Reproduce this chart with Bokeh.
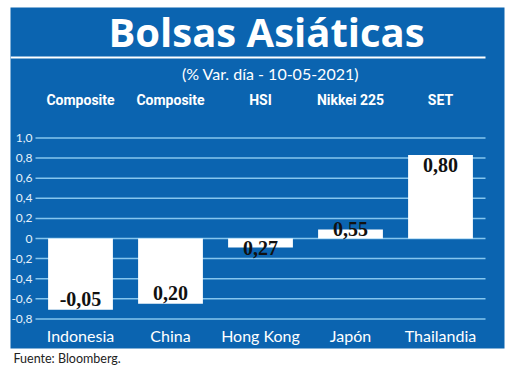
from bokeh.plotting import figure
from bokeh.models import Range1d, Title
from bokeh.core.properties import value
from bokeh.embed import file_html
from bokeh.resources import INLINE

# ---- data ----
countries = ["Indonesia", "China", "Hong Kong", "Japón", "Thailandia"]
indices = ["Composite", "Composite", "HSI", "Nikkei 225", "SET"]
bar_values = [-0.71, -0.65, -0.09, 0.09, 0.83]          # bar heights as drawn
value_labels = ["-0,05", "0,20", "0,27", "0,55", "0,80"]  # printed values
y_ticks = [1.0, 0.8, 0.6, 0.4, 0.2, 0.0, -0.2, -0.4, -0.6, -0.8]
y_tick_labels = ["1,0", "0,8", "0,6", "0,4", "0,2", "0", "-0,2", "-0,4", "-0,6", "-0,8"]
title_text = "Bolsas Asiáticas"
subtitle_text = "(% Var. día - 10-05-2021)"
source_text = "Fuente: Bloomberg."

# ---- layout (pixel scale helpers) ----
BLUE = "#0b64b0"
GRID = "#86c6ee"
X0, XS = 35.0, 90.0      # pixel of x=0, pixels per category
Y0, YS = 238.0, 100.5    # pixel of y=0, pixels per unit
L, R, T, B = 10, 504, 7, 348
W, H = 520, 376


def X(px):
    return (px - X0) / XS


def Y(py):
    return (Y0 - py) / YS


p = figure(width=W, height=H, output_backend="svg", toolbar_location=None,
           x_range=Range1d(X(L), X(R)), y_range=Range1d(Y(B), Y(T)),
           x_axis_type=None, y_axis_type=None,
           min_border_left=L, min_border_right=W - R,
           min_border_top=T, min_border_bottom=H - B,
           background_fill_color=BLUE, border_fill_color="white",
           outline_line_color=None)
p.grid.visible = False

centers = [i + 0.5 for i in range(len(countries))]

# grid lines
p.segment(x0=[0] * len(y_ticks), x1=[len(countries)] * len(y_ticks),
          y0=y_ticks, y1=y_ticks, line_color=GRID, line_width=1.5)

# bars
p.vbar(x=centers, top=bar_values, bottom=0, width=0.72,
       fill_color="white", line_color=None)

# tick labels
p.text(x=[X(32)] * len(y_ticks), y=y_ticks, text=y_tick_labels,
       text_align="right", text_baseline="middle",
       text_font=value("Lato"), text_font_size="12px", text_color="#e6f2fb")


def label_y(v):
    if v <= -0.3:
        return v + 11 / YS
    if v >= 0.3:
        return v - 10 / YS
    return v


p.text(x=centers, y=[label_y(v) for v in bar_values], text=value_labels,
       text_align="center", text_baseline="middle",
       text_font=value("Liberation Serif"), text_font_style="bold",
       text_font_size="20px", text_color="#111111")

# category labels
p.text(x=centers, y=[Y(335)] * len(countries), text=countries,
       text_align="center", text_baseline="middle",
       text_font=value("Lato"), text_font_size="16px", text_color="white")

# index names
p.text(x=centers, y=[Y(99)] * len(indices), text=indices,
       text_align="center", text_baseline="middle",
       text_font=value("Roboto"), text_font_style="bold",
       text_font_size="14px", text_color="white")

# title, rule, subtitle
p.text(x=[X(266)], y=[Y(31)], text=[title_text], text_align="center",
       text_baseline="middle", text_font=value("Open Sans"),
       text_font_style="bold", text_font_size="40px", text_color="white")
p.segment(x0=[X(L)], x1=[X(485)], y0=[Y(57)], y1=[Y(57)],
          line_color="white", line_width=2)
p.text(x=[X(270)], y=[Y(73)], text=[subtitle_text], text_align="center",
       text_baseline="middle", text_font=value("Lato"),
       text_font_size="16px", text_color="white")

# source
p.add_layout(Title(text=source_text, align="left", offset=3, standoff=0,
                   text_font="Lato", text_font_style="normal",
                   text_font_size="12.5px", text_color="#222222"), "below")

open("out.html", "w").write(file_html(p, INLINE))
